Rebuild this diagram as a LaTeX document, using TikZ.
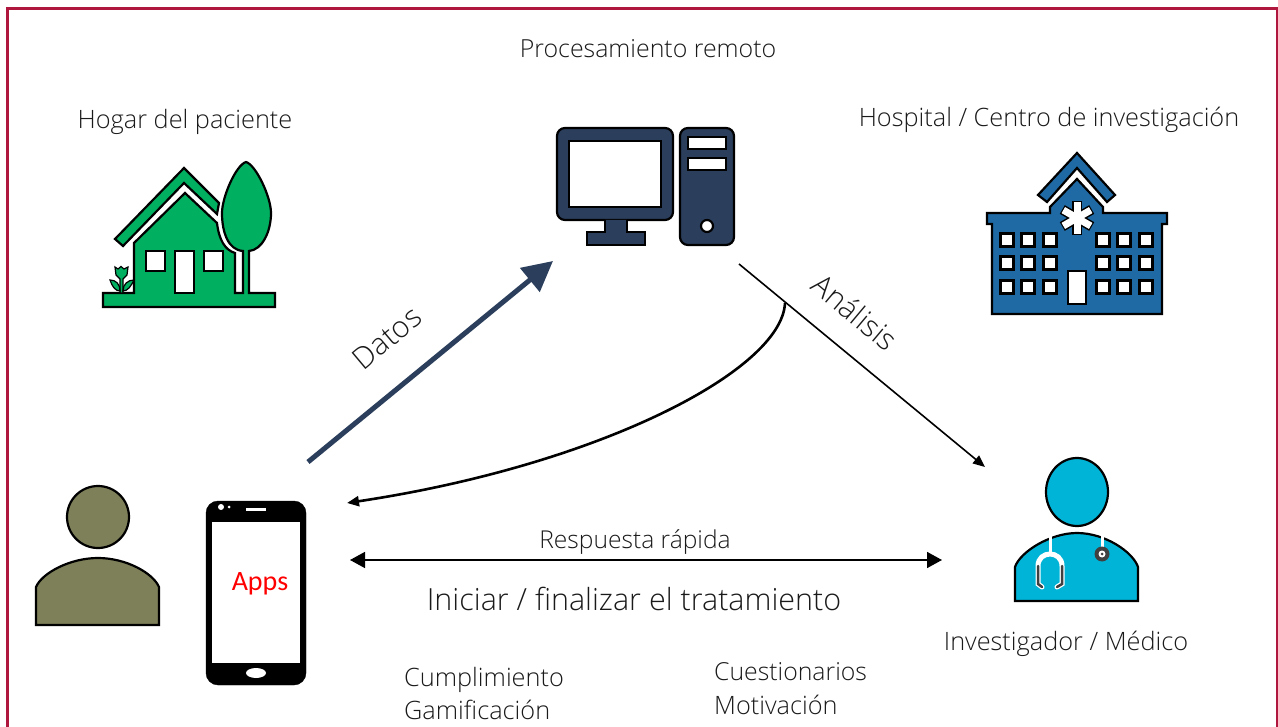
\documentclass[tikz,border=0pt]{standalone}
\usepackage{fontspec}
\setmainfont{Open Sans Light}
\newfontfamily\appsfont{Carlito}
\usetikzlibrary{arrows.meta}
\definecolor{marco}{HTML}{B0173F}
\definecolor{verdecasa}{HTML}{00B060}
\definecolor{azulpc}{HTML}{2B3F5C}
\definecolor{azulhosp}{HTML}{1F6AA5}
\definecolor{oliva}{HTML}{7E8059}
\definecolor{celeste}{HTML}{00B4D8}
\definecolor{texto}{HTML}{1A1A1A}
\tikzset{
  etiqueta/.style={text=texto, font=\fontsize{25.3}{28}\selectfont, inner sep=0pt},
  etiquetaizq/.style={etiqueta, anchor=west},
  etiquetagiro/.style={etiqueta, font=\fontsize{30}{34}\selectfont},
  icono/.style={draw=black, line width=2.2pt},
  hueco/.style={draw=black, line width=2.2pt, fill=white}
}
\begin{document}
\begin{tikzpicture}[x=1pt,y=-1pt]
\useasboundingbox (0,0) rectangle (1278,727);
\draw[marco, line width=3pt] (7.5,727) -- (7.5,8.5) -- (1277,8.5) -- (1277,727);

\node[etiqueta, font=\fontsize{24.9}{28}\selectfont] (remoto) at (648,49) {Procesamiento remoto};
\node[etiqueta] (hogar) at (185,122) {Hogar del paciente};
\node[etiqueta] (hospital) at (1049,120) {Hospital / Centro de investigación};
\node[etiquetagiro, rotate=40] (datos) at (387,338) {Datos};
\node[etiquetagiro, rotate=-40] (analisis) at (855,312) {Análisis};
\node[etiqueta, font=\fontsize{24.6}{28}\selectfont] (respuesta) at (635,542) {Respuesta rápida};
\node[etiqueta, font=\fontsize{30.5}{34}\selectfont] (iniciar) at (634,599) {Iniciar / finalizar el tratamiento};
\node[etiqueta] (investigador) at (1066,644) {Investigador / Médico};
\node[etiquetaizq] (cumplimiento) at (404,680) {Cumplimiento};
\node[etiquetaizq] (gamificacion) at (404,710) {Gamificación};
\node[etiquetaizq, font=\fontsize{24.8}{28}\selectfont] (cuestionarios) at (714,672) {Cuestionarios};
\node[etiquetaizq] (motivacion) at (714,705) {Motivación};

\draw[icono, fill=verdecasa] (115,239) -- (184,168) -- (219,203) -- (217,214) -- (184,183) -- (123,246) -- cycle;
\draw[icono, fill=verdecasa] (103,307) -- (103,293) -- (134,293) -- (134,243) -- (185,193) -- (217,223) .. controls (219,240) and (225,250) .. (235,253) -- (235,293) -- (243,293) -- (243,251) .. controls (228,250) and (222,232) .. (222,213) .. controls (222,197) and (236,165) .. (246,162) .. controls (256,165) and (271,197) .. (271,213) .. controls (271,232) and (262,250) .. (249,251) -- (249,293) -- (275,293) -- (275,307) -- cycle;
\draw[hueco] (146,251) rectangle (165,271);
\draw[hueco] (175,251) rectangle (194,293);
\draw[hueco] (204,251) rectangle (223,271);
\draw[icono, fill=verdecasa, line width=1.2pt] (115,267) -- (118,269) -- (121,266.5) -- (124,269) -- (128,267) -- (127,275) -- (123,279) -- (123,293) -- (120,293) -- (120,279) -- (116,275) -- cycle;
\draw[icono, fill=verdecasa, line width=1.2pt] (110,280) .. controls (116,280) and (120,284) .. (120,291) .. controls (115,291) and (112,286) .. (110,280) -- cycle;
\draw[icono, fill=verdecasa, line width=1.2pt] (134,280) .. controls (128,280) and (123,284) .. (123,291) .. controls (128,291) and (131,286) .. (134,280) -- cycle;

\draw[icono, fill=azulpc, rounded corners=8pt] (557,128) rectangle (673,220);
\draw[hueco] (569,141) rectangle (661,207);
\draw[icono, fill=azulpc] (605,220) -- (605,232) -- (587,232) -- (587,245) -- (645,245) -- (645,232) -- (627,232) -- (627,220);
\draw[icono, fill=azulpc, rounded corners=8pt] (680,128) rectangle (734,245);
\draw[hueco] (688,137) rectangle (726,149);
\draw[hueco] (688,158) rectangle (726,170);
\draw[hueco] (707,226) circle[radius=6];

\draw[icono, fill=azulhosp] (1038,195) -- (1077,153) -- (1115,195) -- (1107,202) -- (1077,168) -- (1047,202) -- cycle;
\draw[icono, fill=azulhosp] (1077,179) -- (1050,207) -- (1050,213) -- (987,213) -- (987,224) -- (992,224) -- (992,314) -- (1162,314) -- (1162,224) -- (1167,224) -- (1167,213) -- (1103,213) -- (1103,207) -- cycle;
\foreach \xv in {1007,1028,1050,1103,1124,1146}
  \foreach \yv in {240,263,287}
    \draw[hueco] (\xv-6.5,\yv-6.5) rectangle (\xv+6.5,\yv+6.5);
\draw[hueco] (1068,271) rectangle (1086,304);
\foreach \a in {90,30,-30}
  \draw[black, line width=10pt] (1077,218) ++(\a:17) -- ++(\a+180:34);
\foreach \a in {90,30,-30}
  \draw[white, line width=7pt] (1077,218) ++(\a:15.8) -- ++(\a+180:31.6);

\draw[icono, fill=oliva] (98,517) circle[radius=31];
\draw[icono, fill=oliva] (36,625) -- (36,587) .. controls (42,573) and (70,558) .. (98,558) .. controls (126,558) and (153,573) .. (159,587) -- (159,625) -- cycle;

\draw[fill=black, rounded corners=12pt] (206,501) rectangle (306,685);
\fill[white] (212,522) rectangle (300,663);
\fill[white] (221,507) circle[radius=3];
\fill[white] (229,507) circle[radius=1.5];
\fill[white] (246,508) rectangle (266,511);
\fill[white] (256,673) ellipse[x radius=10, y radius=5];
\node[text=red, font=\appsfont\fontsize{28}{30}\selectfont, inner sep=0pt] (apps) at (260,584) {Apps};

\draw[icono, fill=celeste] (1077,492) ellipse[x radius=31, y radius=34];
\draw[icono, fill=celeste] (1015,601) -- (1015,567) .. controls (1020,552) and (1050,533) .. (1077,533) .. controls (1105,533) and (1133,552) .. (1138,567) -- (1138,601) -- cycle;
\draw[white, line width=3pt] (1050,534) -- (1050,553);
\draw[white, line width=3pt] (1102,534) -- (1102,553);
\draw[white, line width=5pt, line cap=round] (1042,587) -- (1038,584) -- (1038,566) .. controls (1038,558) and (1044,554) .. (1050,554) .. controls (1056,554) and (1062,558) .. (1062,566) -- (1062,584) -- (1057,587);
\draw[black!75, line width=2.5pt, line cap=round] (1042,587) -- (1038,584) -- (1038,566);
\draw[black!75, line width=2.5pt, line cap=round] (1062,566) -- (1062,584) -- (1057,587);
\fill[black!75] (1102,554) circle[radius=7.5];
\fill[white] (1102,554) circle[radius=3.5];
\fill[black!75] (1102,554) circle[radius=1.5];

\coordinate (datosini) at (308,462);
\coordinate (datosfin) at (553,261);
\coordinate (analisisini) at (739,264);
\coordinate (analisisfin) at (985,467);
\coordinate (curvaini) at (785,303);
\coordinate (curvafin) at (347,503);
\coordinate (rapidaizq) at (350,560);
\coordinate (rapidader) at (942,560);

\draw[azulpc, line width=5pt, -{Triangle[length=30pt,width=30pt]}] (datosini) -- (datosfin);
\draw[black, line width=1.6pt, -{Triangle[length=12pt,width=10pt]}] (analisisini) -- (analisisfin);
\draw[black, line width=2.6pt, -{Triangle[length=12pt,width=10pt]}] (curvaini) .. controls (782,370) and (600,465) .. (curvafin);
\draw[black, line width=1.6pt, {Triangle[length=15pt,width=16pt]}-{Triangle[length=15pt,width=16pt]}] (rapidaizq) -- (rapidader);
\end{tikzpicture}
\end{document}
